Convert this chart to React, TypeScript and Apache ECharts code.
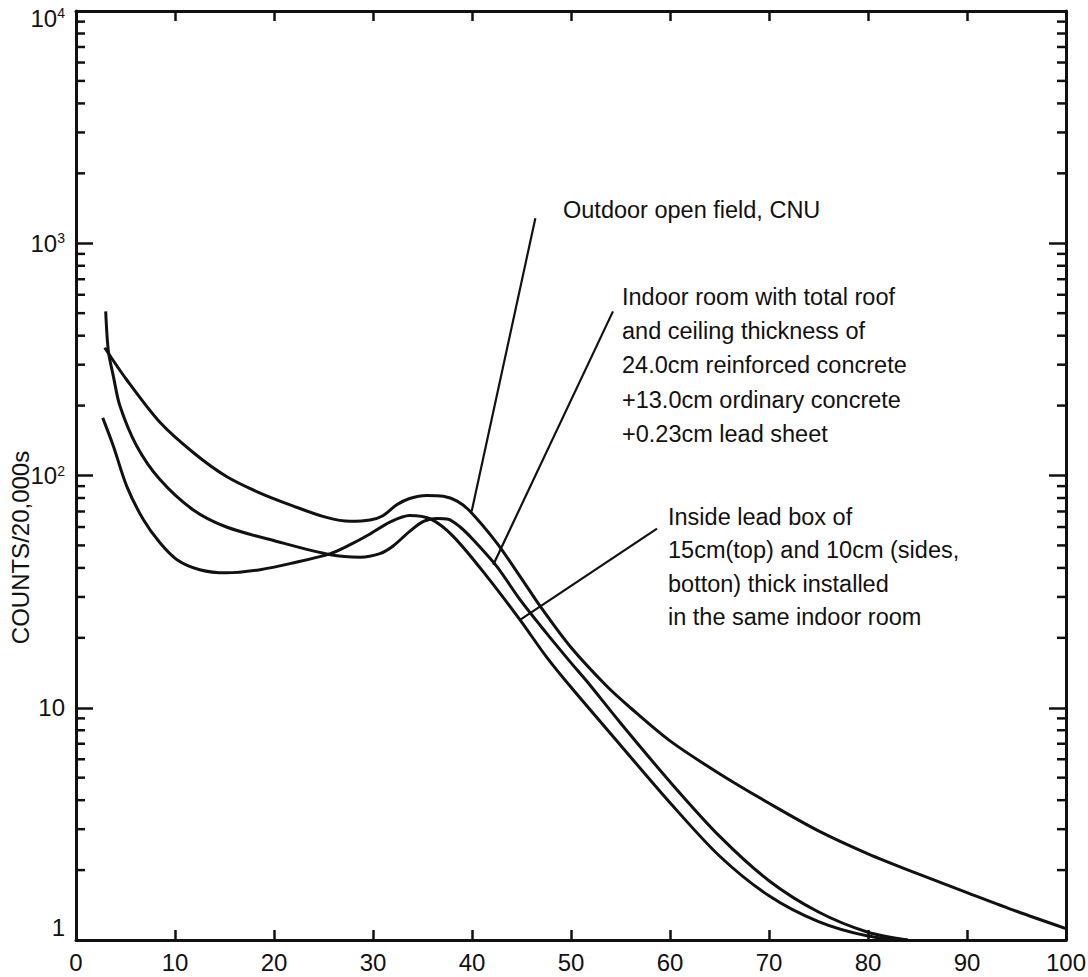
import React, { useEffect, useRef } from "react";
import * as echarts from "echarts";

// ---- data ----
const xTickValues = [0, 10, 20, 30, 40, 50, 60, 70, 80, 90, 100];
const yMinorTicks = [
  2, 3, 4, 5, 6, 7, 8, 9,
  20, 30, 40, 50, 60, 70, 80, 90,
  200, 300, 400, 500, 600, 700, 800, 900,
  2000, 3000, 4000, 5000, 6000, 7000, 8000, 9000,
];

const outdoorField: [number, number][] = [
  [2.9, 355], [5.1, 259], [8.5, 169], [11.9, 125], [15.2, 99], [18.6, 84],
  [21.9, 74], [25.3, 66], [27.7, 63.5], [29.7, 64.3], [31, 67.1], [32.4, 74.8],
  [33.7, 79.6], [35.4, 82], [37.1, 81.4], [38.5, 77.6], [39.8, 70.2], [42.5, 51.3],
  [44.85, 36.8], [46.9, 27.3], [49.9, 18.4], [53.6, 12.4], [56, 10.0], [60, 7.2],
  [65, 5.2], [70, 3.88], [75, 2.95], [80, 2.35], [85, 1.93], [90, 1.6], [95, 1.33],
  [100, 1.12],
];

const indoorRoom: [number, number][] = [
  [3.0, 509], [3.27, 343], [3.77, 268], [4.44, 199], [6.13, 134], [8.48, 96],
  [11.85, 71], [15.2, 60], [20.3, 52], [25.7, 45.6], [28.7, 44.5], [30.7, 46.1],
  [32, 49.6], [33.7, 57.5], [35.1, 63.5], [36.5, 65.3], [37.6, 64.8], [38.8, 60],
  [40.1, 53], [42.5, 40.6], [44.85, 29.2], [47.5, 21], [49.9, 15.8], [51.6, 13.0],
  [55, 8.6], [60, 4.8], [65, 2.8], [70, 1.8], [75, 1.32], [80, 1.08], [84, 1.0],
];

const leadBox: [number, number][] = [
  [2.7, 177], [3.77, 134], [5.12, 90], [6.8, 64.6], [8.48, 51.3], [10.2, 43.4],
  [12.5, 39.3], [15.2, 38.1], [18.6, 39.3], [21.9, 42], [25.7, 46.1], [27.7, 50.4],
  [29.7, 56], [31.7, 63], [33.7, 67.3], [35.8, 65], [38.1, 54.7], [41.5, 36.8],
  [44.85, 23.9], [47.5, 16.6], [49.9, 12.4], [55, 6.9], [60, 3.9], [65, 2.3],
  [70, 1.55], [75, 1.2], [80, 1.04], [84, 1.0],
];

// leader lines from the curves to their captions
const outdoorLeader: [number, number][] = [[39.97, 70.2], [46.4, 1282]];
const indoorLeader: [number, number][] = [[42.15, 41.3], [54.24, 509]];
const leadBoxLeader: [number, number][] = [[44.85, 23.9], [58.69, 59.1]];

const outdoorCaption = ["Outdoor open field, CNU"];
const indoorCaption = [
  "Indoor room with total roof",
  "and ceiling thickness of",
  "24.0cm reinforced concrete",
  "+13.0cm ordinary concrete",
  "+0.23cm lead sheet",
];
const leadBoxCaption = [
  "Inside lead box of",
  "15cm(top) and 10cm (sides,",
  "botton) thick installed",
  "in the same indoor room",
];
const yAxisTitle = "COUNTS/20,000s";

// ---- styles ----
const FONT = "'Liberation Sans', Arial, Helvetica, sans-serif";
const INK = "#111111";

export default function App() {
  const ref = useRef<HTMLDivElement>(null);

  useEffect(() => {
    if (!ref.current) return;
    const chart = echarts.init(ref.current, undefined, { renderer: "svg" });

    const curve = (name: string, data: [number, number][]) => ({
      name,
      type: "line",
      data,
      xAxisIndex: 0,
      yAxisIndex: 0,
      symbol: "none",
      smooth: 0.3,
      lineStyle: { color: INK, width: 3 },
      silent: true,
      z: 3,
    });
    const leader = (name: string, data: [number, number][]) => ({
      name,
      type: "line",
      data,
      xAxisIndex: 0,
      yAxisIndex: 0,
      symbol: "none",
      lineStyle: { color: INK, width: 2.2 },
      silent: true,
      z: 3,
    });

    const captionTexts: any[] = [];
    const addCaption = (lines: string[], x: number, y0: number, dy: number) => {
      lines.forEach((t, i) =>
        captionTexts.push({
          type: "text",
          x,
          y: y0 + i * dy,
          style: {
            text: t,
            fontSize: 23.5,
            fontFamily: FONT,
            fill: INK,
            verticalAlign: "middle",
            align: "left",
          },
        })
      );
    };
    addCaption(outdoorCaption, 563, 210, 34);
    addCaption(indoorCaption, 622, 297, 34.2);
    addCaption(leadBoxCaption, 668, 517, 33.4);

    const yLabelRich = {
      b: { fontSize: 24, fontFamily: FONT, color: INK },
      s: { fontSize: 14, fontFamily: FONT, color: INK, verticalAlign: "top" },
      bt: { fontSize: 24, fontFamily: FONT, color: INK, padding: [14, 0, 0, 0] },
      st: { fontSize: 14, fontFamily: FONT, color: INK, verticalAlign: "top", padding: [14, 0, 0, 0] },
      one: { fontSize: 24, fontFamily: FONT, color: INK, padding: [0, 0, 26, 0] },
    };

    chart.setOption({
      animation: false,
      backgroundColor: "#ffffff",
      grid: {
        left: 76,
        right: 22,
        top: 11,
        bottom: 37,
        containLabel: false,
        outerBoundsMode: "none",
      },
      xAxis: [
        {
          type: "value",
          min: 0,
          max: 100,
          interval: 10,
          position: "bottom",
          axisLine: { onZero: false, lineStyle: { color: INK, width: 3 } },
          axisTick: { inside: true, length: 10, lineStyle: { color: INK, width: 2.5 } },
          axisLabel: {
            margin: 10,
            fontSize: 24,
            fontFamily: FONT,
            color: INK,
            formatter: (v: number) => (xTickValues.includes(v) ? String(v) : ""),
          },
          splitLine: { show: false },
        },
        {
          type: "value",
          min: 0,
          max: 100,
          interval: 10,
          position: "top",
          axisLine: { onZero: false, lineStyle: { color: INK, width: 3 } },
          axisTick: { inside: true, length: 10, lineStyle: { color: INK, width: 2.5 } },
          axisLabel: { show: false },
          splitLine: { show: false },
        },
      ],
      yAxis: [
        {
          type: "log",
          logBase: 10,
          min: 1,
          max: 10000,
          position: "left",
          name: yAxisTitle,
          nameLocation: "middle",
          nameRotate: 90,
          nameGap: 44,
          nameMoveOverlap: false,
          nameTextStyle: {
            fontSize: 24,
            fontFamily: FONT,
            color: INK,
            padding: [0, 144, 0, 0],
          },
          axisLine: { onZero: false, lineStyle: { color: INK, width: 3 } },
          axisTick: { inside: true, length: 17, lineStyle: { color: INK, width: 2.5 } },
          axisLabel: {
            margin: 11,
            rich: yLabelRich,
            formatter: (v: number) => {
              const e = Math.round(Math.log10(v));
              if (e === 0) return "{one|1}";
              if (e === 1) return "{b|10}";
              if (e === 4) return `{bt|10}{st|${e}}`;
              return `{b|10}{s|${e}}`;
            },
          },
          splitLine: { show: false },
        },
        {
          type: "log",
          logBase: 10,
          min: 1,
          max: 10000,
          position: "right",
          axisLine: { onZero: false, lineStyle: { color: INK, width: 3 } },
          axisTick: { inside: true, length: 17, lineStyle: { color: INK, width: 2.5 } },
          axisLabel: { show: false },
          splitLine: { show: false },
        },
      ],
      series: [
        curve("Outdoor open field, CNU", outdoorField),
        curve("Indoor room", indoorRoom),
        curve("Inside lead box", leadBox),
        leader("outdoor leader", outdoorLeader),
        leader("indoor leader", indoorLeader),
        leader("lead box leader", leadBoxLeader),
        {
          name: "minor ticks",
          type: "custom",
          xAxisIndex: 0,
          yAxisIndex: 0,
          silent: true,
          data: yMinorTicks.map((v) => [0, v]),
          encode: { x: 0, y: 1 },
          clip: false,
          renderItem: (_params: any, api: any) => {
            const v = api.value(1);
            const l = api.coord([0, v]);
            const r = api.coord([100, v]);
            return {
              type: "group",
              children: [
                {
                  type: "line",
                  shape: { x1: l[0], y1: l[1], x2: l[0] + 9, y2: l[1] },
                  style: { stroke: INK, lineWidth: 2.5 },
                },
                {
                  type: "line",
                  shape: { x1: r[0] - 9, y1: r[1], x2: r[0], y2: r[1] },
                  style: { stroke: INK, lineWidth: 2.5 },
                },
              ],
            };
          },
        },
      ],
      graphic: captionTexts,
    });

    return () => chart.dispose();
  }, []);

  return (
    <div
      ref={ref}
      style={{ position: "fixed", left: 0, top: 0, width: 1088, height: 977, background: "#fff" }}
    />
  );
}
